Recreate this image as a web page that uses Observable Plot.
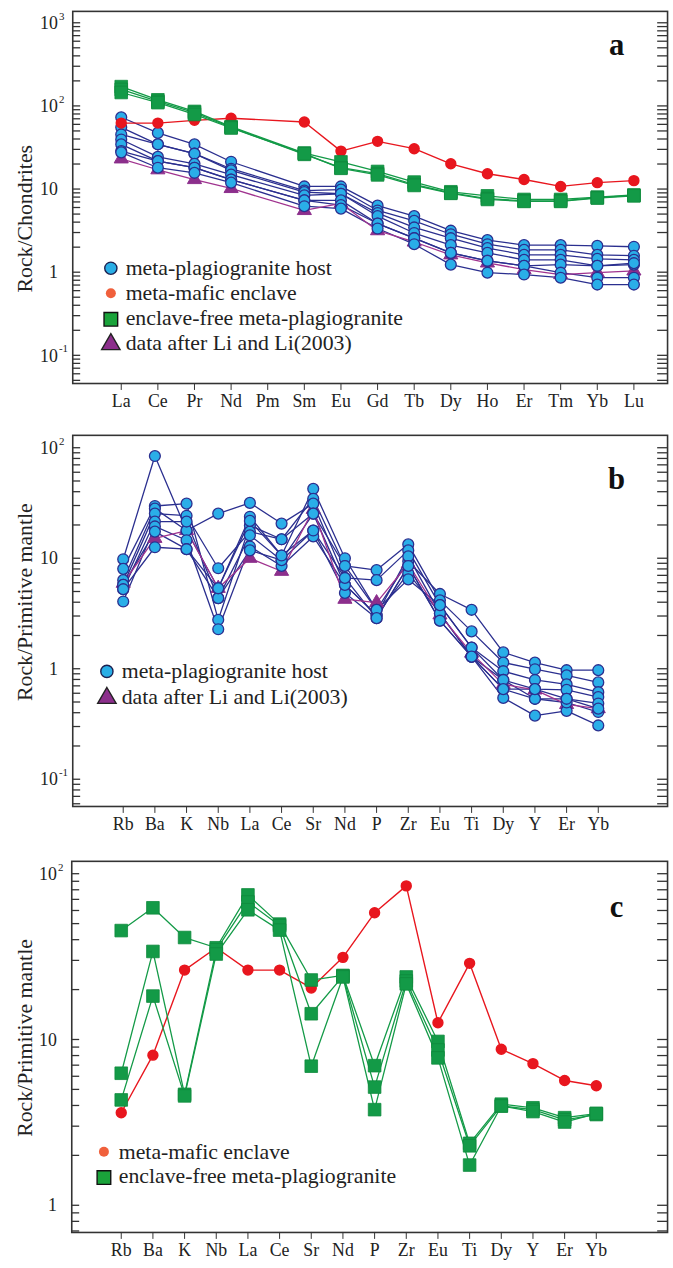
<!DOCTYPE html>
<html><head><meta charset="utf-8">
<script src="https://cdn.jsdelivr.net/npm/d3@7"></script>
<script src="https://cdn.jsdelivr.net/npm/@observablehq/plot@0.6"></script>
<style>
body{margin:0;background:#fff;}
#wrap{position:relative;width:673px;height:1268px;overflow:hidden;background:#fff;}
.panel{position:absolute;left:0;}
</style></head><body><div id="wrap"></div>
<script>
// ---------- categories ----------
const reeElements = ["La","Ce","Pr","Nd","Pm","Sm","Eu","Gd","Tb","Dy","Ho","Er","Tm","Yb","Lu"];
const spiderElements = ["Rb","Ba","K","Nb","La","Ce","Sr","Nd","P","Zr","Eu","Ti","Dy","Y","Er","Yb"];

// ---------- panel a: Rock/Chondrites ----------
const aHost1 = [74, 48, 35, 21.6, null, 10.9, 10.9, 6.4, 4.8, 3.2, 2.47, 2.15, 2.15, 2.1, 2.05];
const aHost2 = [56, 35, 27, 17.8, null, 9.7, 10.0, 5.6, 4.2, 2.9, 2.2, 1.88, 1.88, 1.64, 1.6];
const aHost3 = [46, 35, 27, 17, null, 9.3, 8.9, 5.2, 3.5, 2.6, 1.98, 1.64, 1.64, 1.47, 1.43];
const aHost4 = [40, 24.7, 20.4, 15.1, null, 8.5, 8.9, 4.8, 3.0, 2.15, 1.73, 1.43, 1.43, 1.21, 1.25];
const aHost5 = [35, 22, 18.3, 13.2, null, 7.4, 7.4, 3.9, 2.6, 1.73, 1.39, 1.21, 1.25, 1.21, 1.3];
const aHost6 = [29, 22, 18.3, 13.2, null, 7.4, 6.5, 3.9, 2.6, 1.73, 1.39, 1.21, 1.0, 0.87, 0.87];
const aHost7 = [28, 18.3, 15.9, 12.1, null, 6.3, 5.9, 3.4, 2.2, 1.25, 1.0, 0.95, 0.87, 0.72, 0.72];
const aLiLi  = [23.4, 17.3, 13.2, 10.3, null, 5.6, 6.8, 3.2, 2.34, 1.64, 1.31, 1.09, 0.95, 1.0, 1.05];
const aEnclave = [63, 63, 68, 72, null, 65, 29, 38, 31, 20.4, 15.5, 13.2, 10.9, 12.1, 12.8];
const aFree1 = [173, 120, 87, 57, null, 27.5, 21.5, 16.5, 12.3, 9.4, 8.4, 7.6, 7.6, 8.1, 8.6];
const aFree2 = [160, 115, 84, 56, null, 26.5, 18.3, 15.5, 11.5, 9.1, 7.8, 7.3, 7.3, 8.0, 8.5];
const aFree3 = [147, 111, 80, 55, null, 27, 18.0, 15.0, 11.2, 9.0, 7.6, 7.2, 7.2, 7.9, 8.4];

// ---------- panel b: Rock/Primitive mantle (host) ----------
const bHost1 = [9.9, 85, 18, 5.4, 24, 10.7, 42.9, 10.1, 3.45, 9.5, 4.8, 3.45, 1.42, 1.15, 0.98, 0.98];
const bHost2 = [8.1, 30, 31.5, 2.8, 20, 15, 34.9, 8.6, 7.9, 13.5, 4.2, 2.2, 1.15, 1.0, 0.88, 0.76];
const bHost3 = [6.4, 28.4, 18, 25.6, 32, 20.8, 31.5, 6.7, 6.4, 11.9, 3.8, 1.57, 0.96, 0.8, 0.73, 0.62];
const bHost4 = [5.8, 25.6, 24.5, 8.2, 17.6, 15, 25.6, 5.8, 3.1, 10.5, 3.2, 1.3, 0.8, 0.66, 0.65, 0.56];
const bHost5 = [5.3, 21.7, 21.7, 4.4, 16.3, 9.7, 18, 4.9, 2.9, 8.6, 2.75, 1.3, 0.66, 0.54, 0.54, 0.49];
const bHost6 = [4.1, 19.6, 14.7, 2.3, 12.9, 8.6, 15.9, 5.8, 3.1, 7.4, 3.2, 1.3, 0.55, 0.38, 0.42, 0.31];
const bHost7 = [5.8, 17.6, 12.2, 4.4, 11.9, 9.7, 25.6, 8.6, 3.45, 6.5, 3.8, 1.57, 0.8, 0.54, 0.5, 0.41];
const bHost8 = [5.3, 12.7, 12.2, 5.4, 22, 10.7, 18, 6.7, 2.9, 8.6, 2.75, 1.3, 0.66, 0.66, 0.54, 0.44];
const bLiLi  = [6.0, 15.3, 18, 5.4, 10.1, 7.7, 28, 4.3, 4.0, 9.0, 3.1, 1.4, 0.73, 0.65, 0.48, 0.44];

// ---------- panel c: Rock/Primitive mantle (enclave & enclave-free) ----------
const cEnclave = [3.64, 8.1, 26.4, 36, 26.4, 26.4, 20.6, 31.5, 58.5, 85, 12.7, 29, 8.8, 7.2, 5.7, 5.3];
const cFree1 = [45.7, 62.7, 41.5, 36, 75, 50, 23, 24.5, 7.0, 24, 9.8, 2.38, 4.1, 3.9, 3.4, 3.6];
const cFree2 = [6.3, 34.2, 4.7, 35, 68, 49, 14.4, 24.3, 5.2, 22.7, 8.7, 2.3, 4.0, 3.8, 3.3, 3.55];
const cFree3 = [4.35, 18.4, 4.6, 33, 61, 46, 6.95, 24, 3.8, 21.8, 7.8, 1.76, 4.0, 3.7, 3.2, 3.6];

// ---------- tick labels ----------
const aYTicks = [0.1, 1, 10, 100, 1000];
const bYTicks = [0.1, 1, 10, 100];
const cYTicks = [1, 10, 100];

// ---------- legends ----------
const legendHost = "meta-plagiogranite host";
const legendEnclave = "meta-mafic enclave";
const legendFree = "enclave-free meta-plagiogranite";
const legendLiLi = "data after Li and Li(2003)";

// ---------- styling ----------
const FONT = "'Liberation Serif', 'Times New Roman', serif";
const C = {
  navy: "#2b2f8f", host: "#2aaee8", red: "#e8161e", green: "#139a47", greenStroke: "#0f8a3d",
  purpleLine: "#a0338f", purple: "#8c2f8c", legendRed: "#f0603c"
};

function toRows(elements, series) {
  return series.flatMap(s => s.values.map((v, i) => ({series: s.name, group: s.group, el: elements[i], v}))
    .filter(d => d.v != null));
}
function minorTicks(lo, hi) {
  const out = [];
  for (let e = Math.floor(Math.log10(lo)); e <= Math.ceil(Math.log10(hi)); e++)
    for (let m = 1; m <= 9; m++) { const t = m * Math.pow(10, e); if (t >= lo && t <= hi) out.push(t); }
  return out;
}
function labelParts(t) {
  const e = Math.round(Math.log10(t));
  if (e === 0) return {base: "1", exp: ""};
  if (e === 1) return {base: "10", exp: ""};
  return {base: "10", exp: e < 0 ? "-" + (-e) : String(e)};
}

const PLOT_W = 680, MR = 6;

function makePanel(cfg) {
  const {top, height, marginTop, marginBottom, marginLeft, elements, xRange, yDomain, rows, yTicks} = cfg;
  const lbl = yTicks.map(t => ({v: t, ...labelParts(t)}));
  const g = k => rows.filter(d => d.group === k);
  const marks = [
    Plot.axisX({anchor: "bottom", tickSize: 7, tickPadding: 4, fontSize: 18, label: null, stroke: "#333"}),
    Plot.text(lbl, {y: "v", text: "base", frameAnchor: "left", dx: -15, textAnchor: "end", fontSize: 18, fill: "#222"}),
    Plot.text(lbl, {y: "v", text: "exp", frameAnchor: "left", dx: -14, dy: -7, textAnchor: "start", fontSize: 11, fill: "#222"}),
    Plot.line(g("host"), {x: "el", y: "v", z: "series", stroke: C.navy, strokeWidth: 1.3}),
    Plot.line(g("lili"), {x: "el", y: "v", z: "series", stroke: C.purpleLine, strokeWidth: 1.3}),
    Plot.line(g("enclave"), {x: "el", y: "v", z: "series", stroke: C.red, strokeWidth: 1.4}),
    Plot.line(g("free"), {x: "el", y: "v", z: "series", stroke: C.green, strokeWidth: 1.3}),
    Plot.dot(g("lili"), {x: "el", y: "v", symbol: "triangle", r: 5.3, fill: C.purple, stroke: C.purple, strokeWidth: 1}),
    Plot.dot(g("host"), {x: "el", y: "v", symbol: "circle", r: 5.5, fill: C.host, stroke: C.navy, strokeWidth: 1.3}),
    Plot.dot(g("enclave"), {x: "el", y: "v", symbol: "circle", r: 5, fill: C.red, stroke: C.red}),
    Plot.dot(g("free"), {x: "el", y: "v", symbol: "square", r: 7.2, fill: C.green, stroke: C.greenStroke, strokeWidth: 0.8}),
    Plot.frame({stroke: "#333", strokeWidth: 1.6})
  ];
  const svg = Plot.plot({
    width: PLOT_W, height, marginTop, marginBottom, marginLeft, marginRight: MR,
    style: {fontFamily: FONT, background: "white", color: "#222", overflow: "visible"},
    x: {type: "point", domain: elements, range: xRange},
    y: {type: "log", domain: yDomain, axis: null},
    marks
  });
  const wrap = document.getElementById("wrap");
  const holder = document.createElement("div");
  holder.className = "panel";
  holder.style.top = top + "px";
  holder.appendChild(svg);
  wrap.appendChild(holder);
  const s = d3.select(svg);
  const ys = svg.scale("y");
  const ticks = minorTicks(yDomain[0], yDomain[1]);
  const tg = s.append("g").attr("stroke", "#333").attr("stroke-width", 1.3);
  const xr = PLOT_W - MR;
  ticks.forEach(t => {
    const y = ys.apply(t);
    tg.append("line").attr("x1", marginLeft).attr("x2", marginLeft + 8).attr("y1", y).attr("y2", y);
    tg.append("line").attr("x1", xr - 10).attr("x2", xr).attr("y1", y).attr("y2", y);
  });
  // y title
  s.append("text").attr("transform", `translate(32,${cfg.titleY}) rotate(-90)`)
    .attr("text-anchor", "middle").style("font-family", FONT).attr("font-size", 22).attr("fill", "#222")
    .text(cfg.title);
  // panel letter
  s.append("text").attr("x", 623).attr("y", cfg.letterY).attr("text-anchor", "middle")
    .style("font-family", FONT).attr("font-weight", "bold").attr("font-size", 31).attr("fill", "#111").text(cfg.letter);
  // legend
  cfg.legend.forEach((it, i) => {
    const y = cfg.legendY + i * cfg.legendStep;
    const sym = {circle: d3.symbolCircle, square: d3.symbolSquare, triangle: d3.symbolTriangle}[it.shape];
    const path = d3.symbol(sym, it.size)();
    s.append("path").attr("d", path).attr("transform", `translate(${cfg.legendX},${y - 7 + (it.dy || 0)})`)
      .attr("fill", it.fill).attr("stroke", it.stroke || "none").attr("stroke-width", 1.4);
    s.append("text").attr("x", cfg.legendX + 15).attr("y", y).attr("text-anchor", "start")
      .style("font-family", FONT).attr("font-size", 22).attr("fill", "#222").text(it.text);
  });
  return svg;
}

const L = {
  host: {shape: "circle", size: 120, fill: "#29aee6", stroke: "#1b2050", text: legendHost},
  enclave: {shape: "circle", size: 80, fill: C.legendRed, stroke: "none", text: legendEnclave},
  free: {shape: "square", size: 190, fill: "#1aa33a", stroke: "#111", text: legendFree, dy: 1},
  lili: {shape: "triangle", size: 150, fill: C.purple, stroke: "#222", text: legendLiLi, dy: 1}
};

// panel a
makePanel({
  top: 0, height: 420, marginTop: 11, marginBottom: 33, marginLeft: 73,
  elements: reeElements, xRange: [101, 660],
  yDomain: [Math.pow(10, -1.333), Math.pow(10, 3.143)], yTicks: aYTicks,
  rows: toRows(reeElements, [
    {name: "h1", group: "host", values: aHost1}, {name: "h2", group: "host", values: aHost2},
    {name: "h3", group: "host", values: aHost3}, {name: "h4", group: "host", values: aHost4},
    {name: "h5", group: "host", values: aHost5}, {name: "h6", group: "host", values: aHost6},
    {name: "h7", group: "host", values: aHost7}, {name: "li", group: "lili", values: aLiLi},
    {name: "f1", group: "free", values: aFree1}, {name: "f2", group: "free", values: aFree2},
    {name: "f3", group: "free", values: aFree3}, {name: "e", group: "enclave", values: aEnclave}
  ]),
  title: "Rock/Chondrites", titleY: 221, letter: "a", letterY: 56,
  legend: [L.host, L.enclave, L.free, L.lili], legendX: 112, legendY: 278, legendStep: 25.3
});

// panel b
makePanel({
  top: 420, height: 425, marginTop: 15, marginBottom: 35, marginLeft: 73,
  elements: spiderElements, xRange: [101, 626],
  yDomain: [Math.pow(10, -1.242), Math.pow(10, 2.1166)], yTicks: bYTicks,
  rows: toRows(spiderElements, [
    {name: "li", group: "lili", values: bLiLi},
    {name: "h1", group: "host", values: bHost1}, {name: "h2", group: "host", values: bHost2},
    {name: "h3", group: "host", values: bHost3}, {name: "h4", group: "host", values: bHost4},
    {name: "h5", group: "host", values: bHost5}, {name: "h6", group: "host", values: bHost6},
    {name: "h7", group: "host", values: bHost7}, {name: "h8", group: "host", values: bHost8}
  ]),
  title: "Rock/Primitive mantle", titleY: 184, letter: "b", letterY: 70,
  legend: [L.host, L.lili], legendX: 108, legendY: 261, legendStep: 26
});

// panel c
makePanel({
  top: 845, height: 423, marginTop: 16, marginBottom: 32, marginLeft: 72,
  elements: spiderElements, xRange: [99, 624],
  yDomain: [Math.pow(10, -0.161), Math.pow(10, 2.0776)], yTicks: cYTicks,
  rows: toRows(spiderElements, [
    {name: "f1", group: "free", values: cFree1}, {name: "f2", group: "free", values: cFree2},
    {name: "f3", group: "free", values: cFree3}, {name: "e", group: "enclave", values: cEnclave}
  ]),
  title: "Rock/Primitive mantle", titleY: 195, letter: "c", letterY: 73,
  legend: [L.enclave, L.free], legendX: 105, legendY: 317, legendStep: 25
});
</script></body></html>
